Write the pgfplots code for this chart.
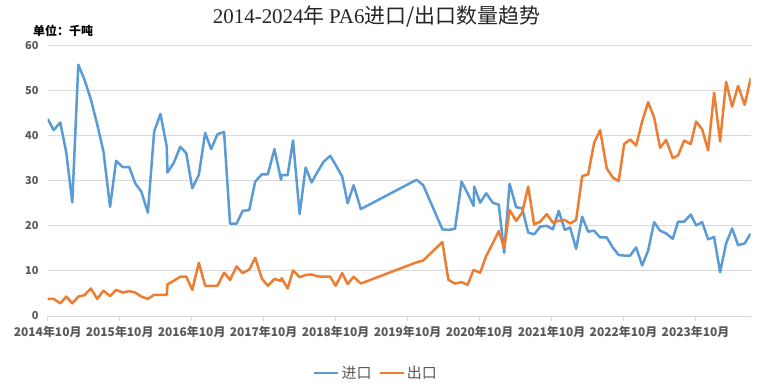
\documentclass[border=0pt]{standalone}
\usepackage{fontspec}
\setmainfont{Noto Sans CJK SC}
\newfontfamily\serifl{Liberation Serif}
\usepackage{pgfplots}
\usepackage{pgfplotstable}
\pgfplotsset{compat=1.18}
\definecolor{cblue}{HTML}{5B9BD5}
\definecolor{corange}{HTML}{ED7D31}
\definecolor{gridc}{HTML}{D9D9D9}
\definecolor{textc}{HTML}{595959}
\definecolor{titlec}{HTML}{262626}

\pgfplotstableread{
x y
0 43.7
1.0 41.2
2.1 42.9
3.1 36.2
4.1 25.2
5.1 55.7
6.1 52.5
7.2 48.0
8.25 42.5
9.3 36.4
10.4 24.2
11.4 34.4
12.5 33.0
13.6 33.0
14.6 29.4
15.6 27.6
16.7 22.9
17.75 40.9
18.8 44.8
19.85 37.5
19.97 31.8
21.0 33.9
22.1 37.5
23.1 36.1
24.1 28.3
25.2 31.3
26.25 40.6
27.25 37.0
28.3 40.3
29.4 40.8
30.4 20.5
31.5 20.5
32.5 23.3
33.6 23.5
34.6 29.8
35.7 31.4
36.7 31.4
37.8 37.0
38.9 30.2
39.0 31.2
40.0 31.2
40.9 38.9
42.0 22.6
43.0 32.9
44.0 29.6
45.0 32.0
46.0 34.2
47.1 35.5
48.0 33.5
49.1 30.9
50.0 25.0
51.0 29.0
52.2 23.7
61.5 30.2
62.6 29.0
65.8 19.2
66.8 19.1
67.9 19.3
69.0 29.8
70.0 27.2
71.0 24.4
71.1 28.7
72.1 25.1
73.1 27.2
74.2 25.1
75.2 24.7
76.1 14.0
77.0 29.3
78.1 24.1
79.1 23.9
80.1 18.5
81.1 18.1
82.1 19.8
83.2 20.0
84.2 19.2
85.2 23.3
86.2 19.1
87.1 19.6
88.1 14.9
89.1 22.0
90.1 18.7
91.1 18.9
92.1 17.4
93.2 17.4
94.2 15.2
95.2 13.5
96.1 13.4
97.1 13.4
98.1 15.2
99.1 11.2
100.1 14.5
101.1 20.8
102.1 18.9
103.1 18.3
104.2 17.1
105.1 20.9
106.1 20.9
107.2 22.5
108.1 20.1
109.1 20.8
110.1 17.0
111.1 17.5
112.1 9.7
113.1 16.1
114.1 19.4
115.1 15.7
116.2 16.1
117.2 18.3
}\importdata

\pgfplotstableread{
x y
0 3.8
1.0 3.8
2.1 2.8
3.1 4.3
4.1 2.8
5.1 4.3
6.1 4.6
7.2 6.1
8.25 3.8
9.3 5.6
10.4 4.4
11.4 5.8
12.5 5.2
13.6 5.5
14.6 5.2
15.6 4.3
16.7 3.8
17.75 4.7
18.8 4.7
19.85 4.7
19.97 7.0
21.0 7.8
22.1 8.7
23.1 8.7
24.1 5.8
25.2 11.8
26.25 6.7
27.25 6.7
28.3 6.7
29.4 9.6
30.4 8.0
31.5 11.0
32.5 9.5
33.6 10.3
34.6 12.9
35.7 8.3
36.7 6.7
37.8 8.2
38.9 7.8
39.0 8.4
40.0 6.1
40.9 10.1
42.0 8.6
43.0 9.1
44.0 9.2
45.0 8.8
46.0 8.7
47.1 8.7
48.0 6.7
49.1 9.5
50.0 7.1
51.0 8.7
52.2 7.2
61.5 11.9
62.6 12.3
65.8 16.4
66.8 8.0
67.9 7.2
69.0 7.5
70.0 6.9
71.0 10.2
72.1 9.6
73.1 13.3
74.2 16.1
75.2 18.8
76.1 15.0
77.0 23.5
78.1 21.1
79.1 22.9
80.1 28.7
81.1 20.3
82.1 20.9
83.2 22.6
84.2 20.7
85.2 21.1
86.2 21.3
87.1 20.5
88.1 21.3
89.1 31.0
90.1 31.4
91.1 38.4
92.1 41.2
93.2 32.7
94.2 30.7
95.2 29.9
96.1 38.1
97.1 39.1
98.1 37.8
99.1 43.1
100.1 47.4
101.1 44.0
102.1 37.3
103.1 39.0
104.2 35.0
105.1 35.6
106.1 38.9
107.2 38.1
108.1 43.1
109.1 41.4
110.1 36.7
111.1 49.5
112.1 38.7
113.1 51.9
114.1 46.4
115.1 51.0
116.2 46.8
117.2 52.7
}\exportdata

\begin{document}
\begin{tikzpicture}
\path[use as bounding box, fill=white] (0bp,0bp) rectangle (759bp,389bp);
\node[font=\fontsize{21}{21}\selectfont, text=titlec, inner sep=0pt] at (376.5bp,372bp) {{\serifl 2014-2024}年 {\serifl PA6}进口/出口数量趋势};
\node[font=\bfseries\fontsize{12}{12}\selectfont, text=black, anchor=west, inner sep=0pt] at (33bp,358bp) {单位：千吨};
\begin{axis}[
  at={(47.7bp,73bp)}, anchor=south west,
  scale only axis, width=703bp, height=270.7bp,
  xmin=0, xmax=117.2, ymin=0, ymax=60,
  ytick={0,10,...,60},
  xtick={0,12,...,108},
  xticklabels={2014年10月,2015年10月,2016年10月,2017年10月,2018年10月,2019年10月,2020年10月,2021年10月,2022年10月,2023年10月},
  axis x line*=bottom, axis y line*=left,
  x axis line style={draw=gridc, line width=1bp, -},
  y axis line style={draw=none},
  ymajorgrids, grid style={draw=gridc, line width=1bp},
  tick align=outside,
  xtick style={draw=gridc, line width=1bp},
  major tick length=5bp,
  ytick style={draw=none},
  /pgf/number format/assume math mode=true,
  ticklabel style={font=\bfseries\fontsize{11}{11}\selectfont, text=textc, inner sep=0pt},
  yticklabel style={anchor=east, xshift=-4bp},
  xticklabel style={font=\bfseries\fontsize{12}{12}\selectfont, anchor=north, yshift=-5bp},
  legend style={at={(0.467,-0.2106)}, anchor=center, draw=none, fill=none,
    legend columns=2, font=\fontsize{15}{15}\selectfont, text=textc,
    /tikz/every even column/.append style={column sep=5bp}},
  legend image code/.code={\draw[#1, line width=2.5bp] (0bp,0bp) -- (24bp,0bp);},
  every axis plot/.append style={line width=2.5bp, line join=round, no markers},
]
\addplot[cblue] table[x=x,y=y] {\importdata};
\addlegendentry{进口}
\addplot[corange] table[x=x,y=y] {\exportdata};
\addlegendentry{出口}
\end{axis}
\end{tikzpicture}
\end{document}
